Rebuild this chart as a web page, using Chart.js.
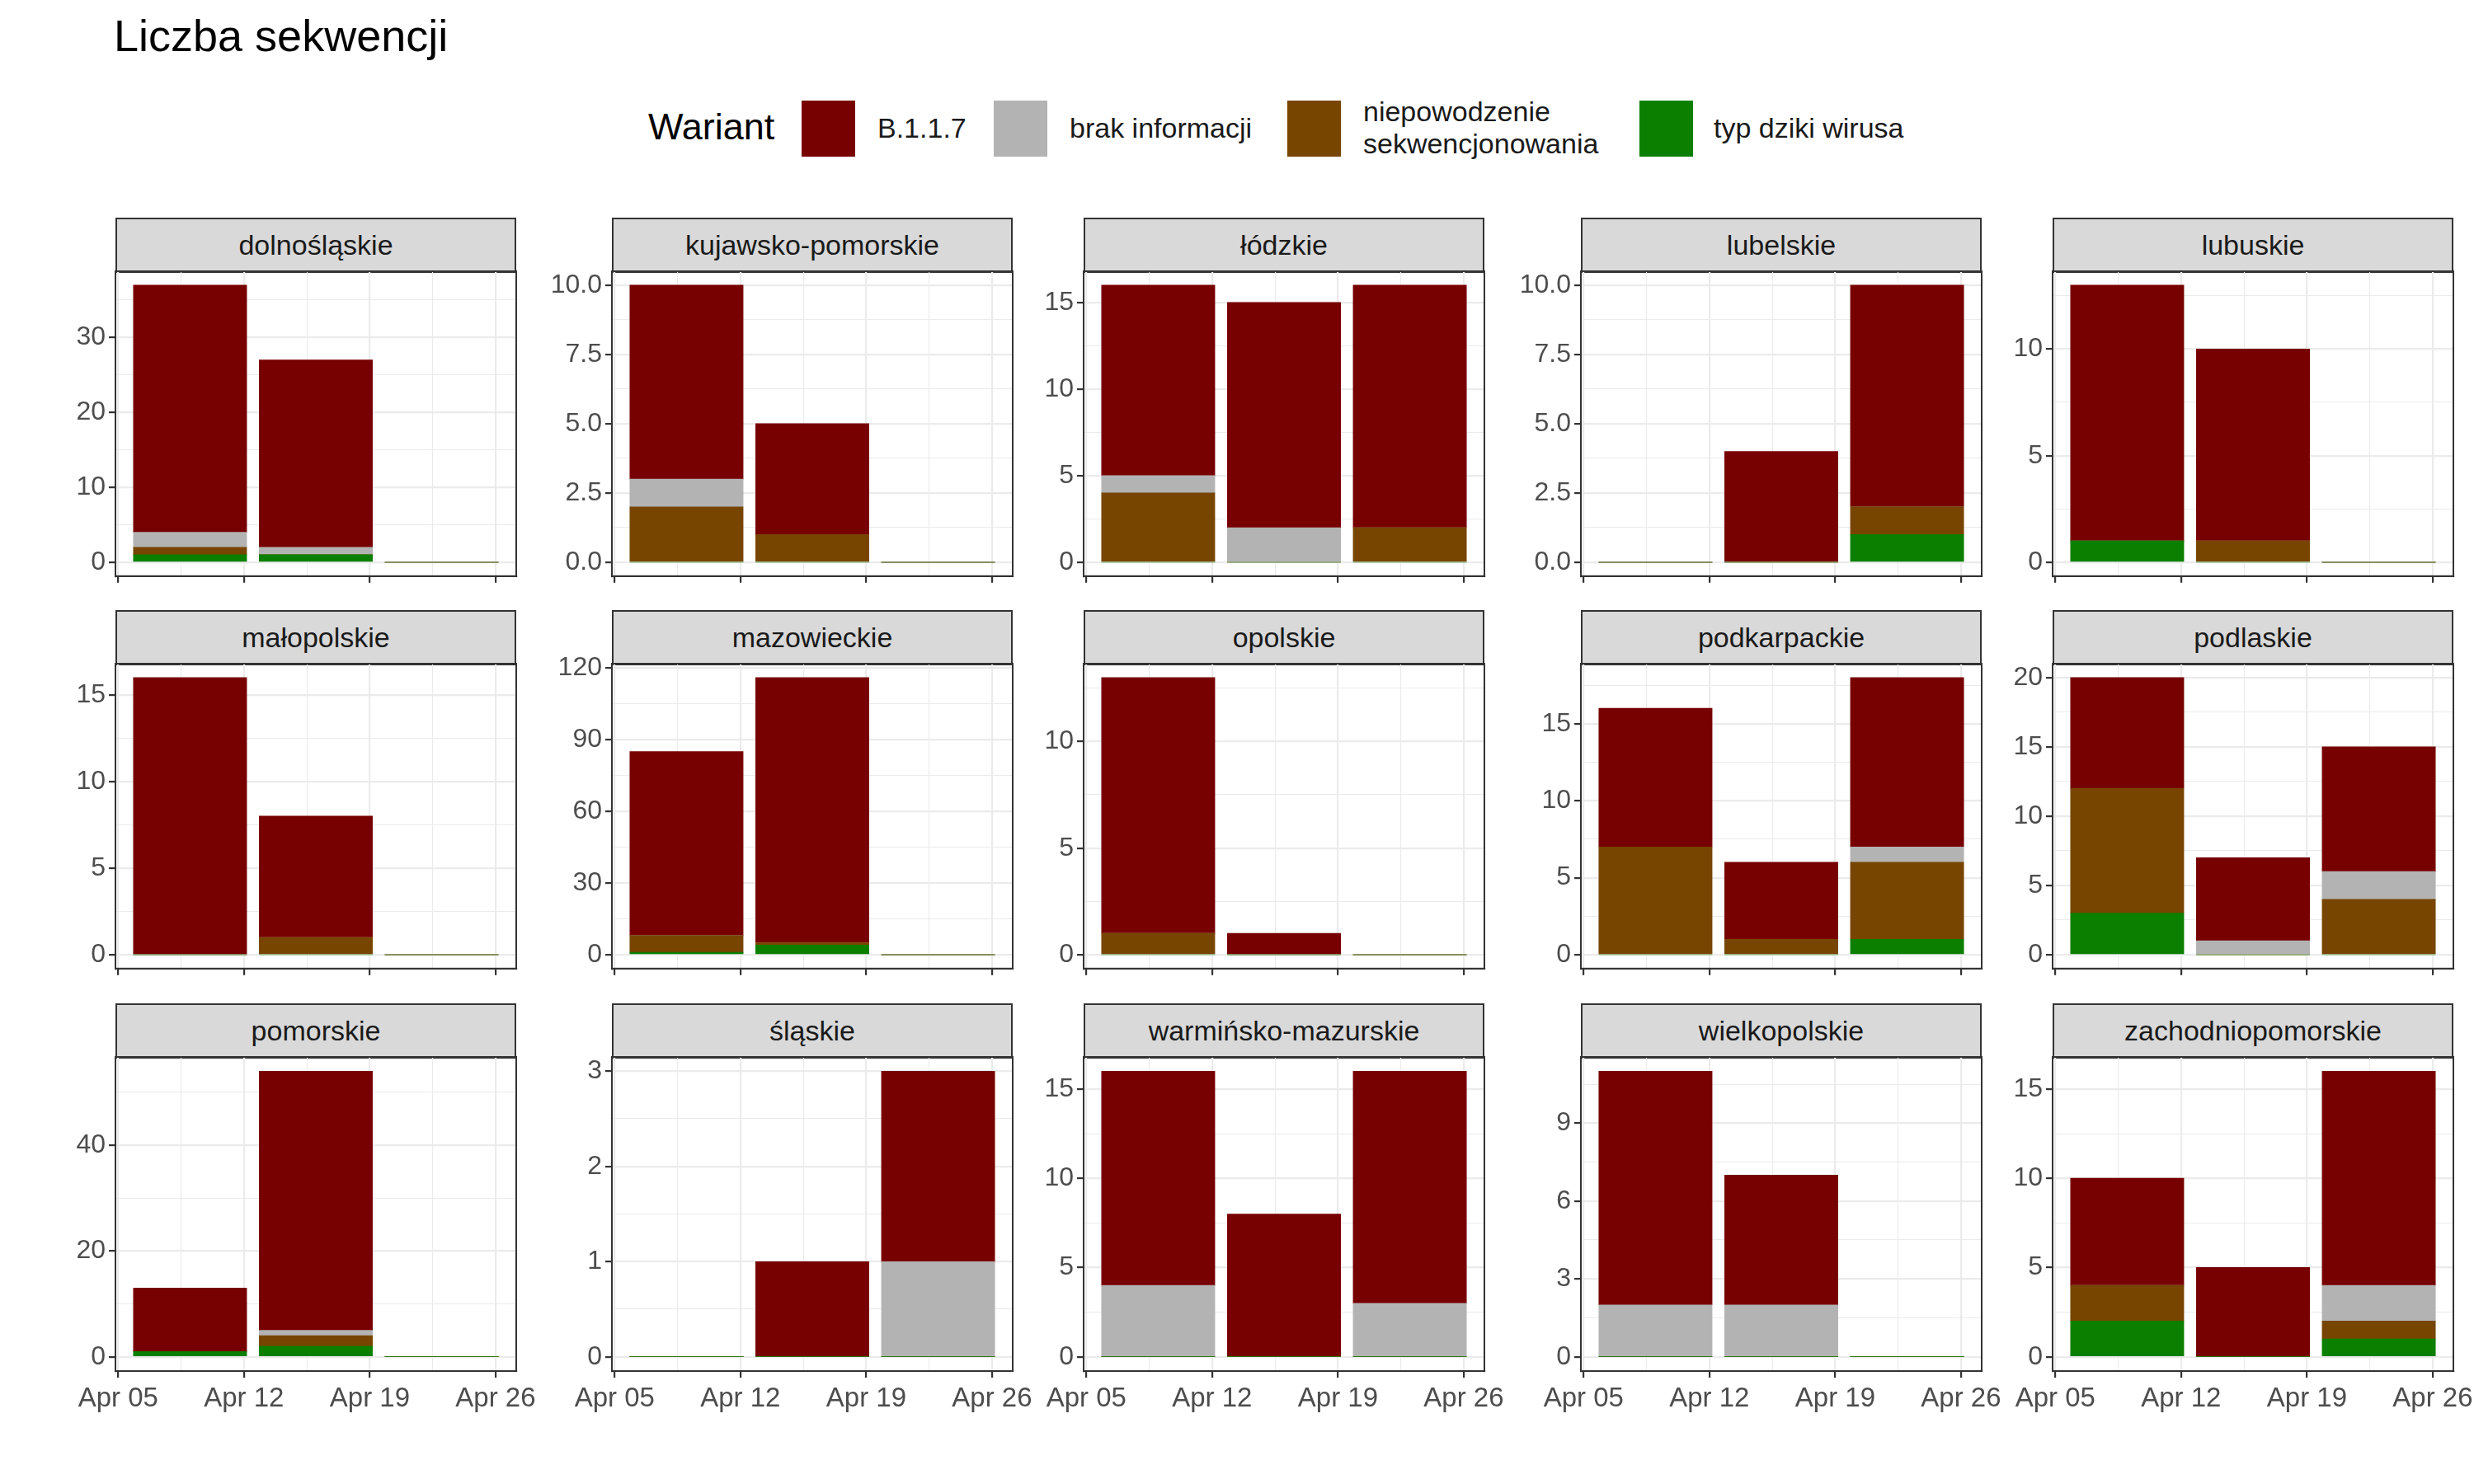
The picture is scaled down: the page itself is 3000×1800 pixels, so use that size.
<!DOCTYPE html>
<html>
<head>
<meta charset="utf-8">
<script src="https://cdn.jsdelivr.net/npm/chart.js@4"></script>
<style>
  body { margin: 0; width: 3000px; height: 1800px; background: #fff; position: relative; font-family: "Liberation Sans", Arial, sans-serif; overflow: hidden; }
  .abs { position: absolute; }
  .title { left: 138px; top: 12px; font-size: 54px; color: #000; }
  .legend-title { left: 786px; top: 128px; font-size: 45px; color: #000; }
  .key { width: 65px; height: 68px; top: 122px; }
  .klab { font-size: 34px; color: #1a1a1a; line-height: 39px; white-space: nowrap; }
  .strip { background: #d9d9d9; border: 2px solid #333; box-sizing: border-box; height: 67px; width: 486px;
           font-size: 34px; color: #1a1a1a; text-align: center; line-height: 63px; }
</style>
</head>
<body>
<div class="abs title">Liczba sekwencji</div>
<div class="abs legend-title">Wariant</div>
<div id="legend"></div>
<div id="facets"></div>
<script>
// weeks (day of April, bar centres)
const weeks = [9, 16, 23];
const xTickDays = [5, 12, 19, 26];
const xTickLabels = ['Apr 05', 'Apr 12', 'Apr 19', 'Apr 26'];

const variants = ['typ dziki wirusa', 'niepowodzenie sekwencjonowania', 'brak informacji', 'B.1.1.7'];
const variantColors = ['#0b7f00', '#784500', '#b3b3b3', '#770000'];

const regions = ['dolnośląskie', 'kujawsko-pomorskie', 'łódzkie', 'lubelskie', 'lubuskie',
  'małopolskie', 'mazowieckie', 'opolskie', 'podkarpackie', 'podlaskie',
  'pomorskie', 'śląskie', 'warmińsko-mazurskie', 'wielkopolskie', 'zachodniopomorskie'];

// counts per week, per region
const wildType = [[1,1,0],[0,0,0],[0,0,0],[0,0,1],[1,0,0],[0,0,0],[1,4,0],[0,0,0],[0,0,1],[3,0,0],[1,2,0],[0,0,0],[0,0,0],[0,0,0],[2,0,1]];
const failed   = [[1,0,0],[2,1,0],[4,0,2],[0,0,1],[0,1,0],[0,1,0],[7,1,0],[1,0,0],[7,1,5],[9,0,4],[0,2,0],[0,0,0],[0,0,0],[0,0,0],[2,0,1]];
const noInfo   = [[2,1,0],[1,0,0],[1,2,0],[0,0,0],[0,0,0],[0,0,0],[0,0,0],[0,0,0],[0,0,1],[0,1,2],[0,1,0],[0,0,1],[4,0,3],[2,2,0],[0,0,2]];
const b117     = [[33,25,0],[7,4,0],[11,13,14],[0,4,8],[12,9,0],[16,7,0],[77,111,0],[12,1,0],[9,5,11],[8,6,9],[12,49,0],[0,1,2],[12,8,13],[9,5,0],[6,5,12]];

const yTickLabels = [
  ['0','10','20','30'], ['0.0','2.5','5.0','7.5','10.0'], ['0','5','10','15'], ['0.0','2.5','5.0','7.5','10.0'], ['0','5','10'],
  ['0','5','10','15'], ['0','30','60','90','120'], ['0','5','10'], ['0','5','10','15'], ['0','5','10','15','20'],
  ['0','20','40'], ['0','1','2','3'], ['0','5','10','15'], ['0','3','6','9'], ['0','5','10','15']
];

const seriesData = [wildType, failed, noInfo, b117];

// legend
const legendKeys = [
  { label: 'B.1.1.7', color: '#770000', kx: 972, lx: 1064 },
  { label: 'brak informacji', color: '#b3b3b3', kx: 1205, lx: 1297 },
  { label: 'niepowodzenie<br>sekwencjonowania', color: '#784500', kx: 1561, lx: 1653 },
  { label: 'typ dziki wirusa', color: '#0b7f00', kx: 1988, lx: 2078 }
];
const legend = document.getElementById('legend');
legendKeys.forEach(k => {
  legend.insertAdjacentHTML('beforeend',
    `<div class="abs key" style="left:${k.kx}px;background:${k.color}"></div>` +
    `<div class="abs klab" style="left:${k.lx}px;top:${k.label.includes('<br>') ? 116 : 136}px">${k.label}</div>`);
});

// facet layout
const colLefts = [140, 742, 1314, 1917, 2489];
const stripTops = [264, 740, 1217];
const panelW = 486, panelH = 381, stripH = 67;
const axisW = 100, padTop = 24, padRight = 70;
const xMin = 4.85, xMax = 27.15;
const barThickness = panelW * 6.3 / (xMax - xMin);

const facets = document.getElementById('facets');

regions.forEach((name, i) => {
  const col = i % 5, row = Math.floor(i / 5);
  const left = colLefts[col], stripTop = stripTops[row];
  const panelTop = stripTop + stripH - 2;
  const bottomRow = row === 2;
  const xAxisH = bottomRow ? 70 : 12;

  facets.insertAdjacentHTML('beforeend', `<div class="abs strip" style="left:${left}px;top:${stripTop}px">${name}</div>`);

  const cw = axisW + panelW + padRight, ch = padTop + panelH + xAxisH;
  const wrap = document.createElement('div');
  wrap.className = 'abs';
  wrap.style.cssText = `left:${left - axisW}px;top:${panelTop - padTop}px;width:${cw}px;height:${ch}px`;
  const canvas = document.createElement('canvas');
  wrap.appendChild(canvas);
  facets.appendChild(wrap);

  const totals = weeks.map((w, k) => seriesData.reduce((s, d) => s + d[i][k], 0));
  const maxTot = Math.max(...totals);
  const yMajor = yTickLabels[i].map(Number);
  const yStep = yMajor[1] - yMajor[0];
  const yTicks = [];
  yMajor.forEach(v => {
    yTicks.push({ value: v, major: true });
    if (v + yStep / 2 <= maxTot * 1.05) yTicks.push({ value: v + yStep / 2, major: false });
  });
  const xTicks = [];
  xTickDays.forEach((d, k) => {
    xTicks.push({ value: d, major: true, label: xTickLabels[k] });
    if (k < xTickDays.length - 1) xTicks.push({ value: d + 3.5, major: false, label: '' });
  });

  new Chart(canvas, {
    type: 'bar',
    data: {
      datasets: variants.map((v, s) => ({
        label: v,
        data: weeks.map((w, k) => ({ x: w, y: seriesData[s][i][k] })),
        backgroundColor: variantColors[s],
        borderWidth: 0,
        barThickness: barThickness
      }))
    },
    options: {
      responsive: true,
      maintainAspectRatio: false,
      animation: false,
      layout: { padding: { top: padTop, right: padRight, left: 0, bottom: 0 } },
      plugins: { legend: { display: false }, tooltip: { enabled: false } },
      scales: {
        x: {
          type: 'linear', stacked: true, min: xMin, max: xMax, offset: false,
          afterBuildTicks: sc => { sc.ticks = xTicks.map(t => ({ value: t.value, label: t.label })); },
          afterFit: sc => { sc.height = xAxisH; },
          ticks: {
            display: bottomRow, autoSkip: false, maxRotation: 0, padding: 6,
            color: '#4d4d4d', font: { family: 'Liberation Sans', size: 33 },
            callback: (v) => { const t = xTicks.find(t => t.value === v); return t ? t.label : ''; }
          },
          grid: {
            color: '#ebebeb', offset: false,
            lineWidth: c => (c.tick && xTicks.find(t => t.value === c.tick.value && t.major)) ? 2.2 : 1.1,
            tickColor: c => (c.tick && xTicks.find(t => t.value === c.tick.value && t.major)) ? '#333' : 'rgba(0,0,0,0)',
            tickLength: 8, drawTicks: true
          },
          border: { display: true, color: '#333', width: 2 }
        },
        y: {
          type: 'linear', stacked: true, min: -0.05 * maxTot, max: maxTot * 1.05,
          afterBuildTicks: sc => { sc.ticks = yTicks.map(t => ({ value: t.value })); },
          afterFit: sc => { sc.width = axisW; },
          ticks: {
            autoSkip: false, padding: 4, color: '#4d4d4d', font: { family: 'Liberation Sans', size: 32 },
            callback: (v) => { const k = yMajor.indexOf(v); return k >= 0 ? yTickLabels[i][k] : ''; }
          },
          grid: {
            color: '#ebebeb',
            lineWidth: c => (c.tick && yMajor.includes(c.tick.value)) ? 2.2 : 1.1,
            tickColor: c => (c.tick && yMajor.includes(c.tick.value)) ? '#333' : 'rgba(0,0,0,0)',
            tickLength: 8
          },
          border: { display: true, color: '#333', width: 2 }
        }
      }
    },
    plugins: [{
      id: 'panelBorder',
      afterDraw(chart) {
        const a = chart.chartArea, c = chart.ctx;
        c.save();
        c.strokeStyle = '#333';
        c.lineWidth = 2;
        c.strokeRect(a.left, a.top, a.right - a.left, a.bottom - a.top);
        c.restore();
      }
    }]
  });
});
</script>
</body>
</html>
